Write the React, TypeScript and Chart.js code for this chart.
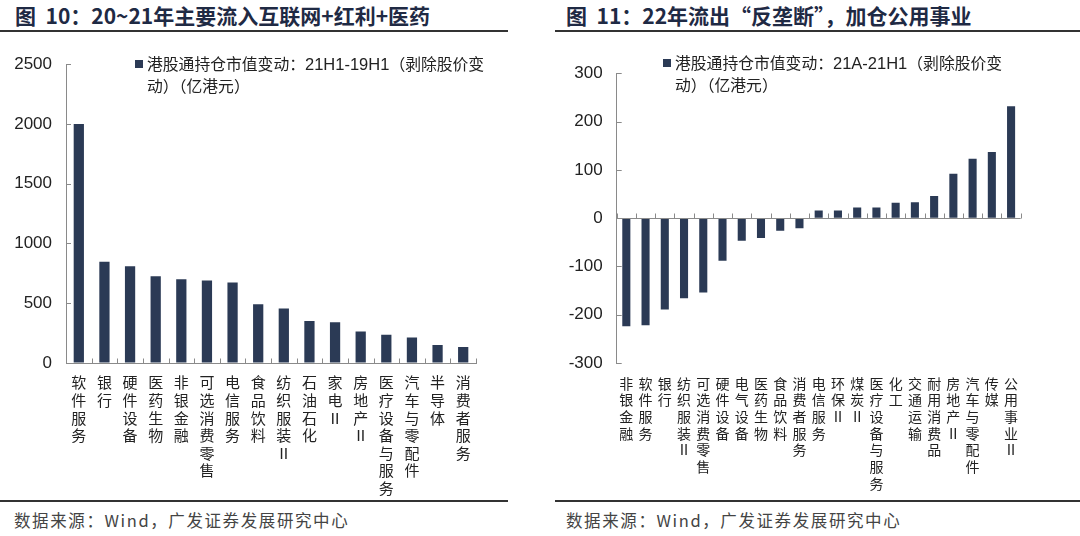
import React, { useEffect, useRef } from "react";
import { Chart, registerables } from "chart.js";

Chart.register(...registerables);

const leftCategories: string[] = [
  "软件服务", "银行", "硬件设备", "医药生物", "非银金融", "可选消费零售", "电信服务", "食品饮料",
  "纺织服装Ⅱ", "石油石化", "家电Ⅱ", "房地产Ⅱ", "医疗设备与服务", "汽车与零配件", "半导体", "消费者服务",
];
const leftValues: number[] = [2000, 848, 809, 726, 701, 690, 673, 491, 457, 352, 341, 263, 236, 213, 150, 133];
const leftTicks = { min: 0, max: 2500, step: 500 };

const rightCategories: string[] = [
  "非银金融", "软件服务", "银行", "纺织服装Ⅱ", "可选消费零售", "硬件设备", "电气设备", "医药生物",
  "食品饮料", "消费者服务", "电信服务", "环保Ⅱ", "煤炭Ⅱ", "医疗设备与服务", "化工", "交通运输",
  "耐用消费品", "房地产Ⅱ", "汽车与零配件", "传媒", "公用事业Ⅱ",
];
const rightValues: number[] = [-224, -222, -189, -166, -154, -88, -47, -41, -26, -21, 16, 16, 22, 22, 32, 33, 46, 92, 123, 137, 232];
const rightTicks = { min: -300, max: 300, step: 100 };

const BAR = "#2b3a55";
const AXIS = "#8a8a8a";
const CJK = "'Noto Sans CJK SC', 'Liberation Sans', sans-serif";
const NUM = "'Liberation Sans', Arial, sans-serif";

const innerTicks = {
  id: "innerTicks",
  afterDatasetsDraw(chart: any, _args: any, opts: any) {
    const { ctx, chartArea } = chart;
    const x = chart.scales.x;
    const y = chart.scales.y;
    ctx.save();
    ctx.strokeStyle = AXIS;
    ctx.lineWidth = 1;
    y.ticks.forEach((_t: any, i: number) => {
      const py = Math.round(y.getPixelForTick(i)) + 0.5;
      ctx.beginPath();
      ctx.moveTo(chartArea.left, py);
      ctx.lineTo(chartArea.left + 5, py);
      ctx.stroke();
    });
    const by = Math.round(opts.zeroLine ? y.getPixelForValue(0) : chartArea.bottom) + 0.5;
    if (opts.zeroLine) {
      ctx.beginPath();
      ctx.moveTo(chartArea.left, by);
      ctx.lineTo(chartArea.right, by);
      ctx.stroke();
    }
    const n = x.ticks.length;
    for (let i = 0; i <= n; i++) {
      const px = Math.round(x.left + (i * x.width) / n) + 0.5;
      ctx.beginPath();
      ctx.moveTo(px, by);
      ctx.lineTo(px, by - 5);
      ctx.stroke();
    }
    ctx.restore();
  },
};

function vertical(label: string): string[] {
  return Array.from(label);
}

function useBarChart(
  ref: React.RefObject<HTMLCanvasElement>,
  cats: string[],
  vals: number[],
  ticks: { min: number; max: number; step: number },
  layout: { top: number; right: number; yWidth: number; xHeight: number; bar: number; labelSize: number; lineH: number; zeroLine: boolean; xPad: number }
) {
  useEffect(() => {
    if (!ref.current) return;
    const chart = new Chart(ref.current, {
      type: "bar",
      data: {
        labels: cats.map(vertical),
        datasets: [
          {
            label: "data",
            data: vals,
            backgroundColor: BAR,
            borderWidth: 0,
            barPercentage: layout.bar,
            categoryPercentage: 1,
          },
        ],
      },
      options: {
        animation: false,
        responsive: false,
        maintainAspectRatio: false,
        layout: { padding: { top: layout.top, right: layout.right, left: 0, bottom: 0 } },
        plugins: {
          legend: { display: false },
          tooltip: { enabled: false },
          innerTicks: { zeroLine: layout.zeroLine },
        } as any,
        scales: {
          x: {
            grid: { display: true, drawOnChartArea: false, drawTicks: false },
            border: { display: !layout.zeroLine, color: AXIS, width: 1 },
            ticks: {
              autoSkip: false,
              maxRotation: 0,
              minRotation: 0,
              padding: layout.xPad,
              color: "#222",
              font: { family: CJK, size: layout.labelSize, lineHeight: layout.lineH },
            },
            afterFit: (s: any) => {
              s.height = layout.xHeight;
            },
          },
          y: {
            min: ticks.min,
            max: ticks.max,
            grid: { display: true, drawOnChartArea: false, drawTicks: false },
            border: { display: true, color: AXIS, width: 1 },
            ticks: {
              stepSize: ticks.step,
              padding: 14,
              color: "#222",
              font: { family: NUM, size: 17 },
              callback: (v: any) => String(v),
            },
            afterFit: (s: any) => {
              s.width = layout.yWidth;
            },
          },
        },
      },
      plugins: [innerTicks as any],
    });
    return () => chart.destroy();
  }, []);
}

const titleStyle: React.CSSProperties = {
  position: "absolute",
  top: 2,
  fontFamily: CJK,
  fontWeight: 700,
  fontSize: 21,
  color: "#1f2a44",
  whiteSpace: "pre",
  lineHeight: "26px",
};
const srcStyle: React.CSSProperties = {
  position: "absolute",
  top: 508,
  fontFamily: CJK,
  fontSize: 16.5,
  color: "#444",
  whiteSpace: "nowrap",
  letterSpacing: 1.6,
  lineHeight: "24px",
};
const legendText: React.CSSProperties = {
  position: "absolute",
  fontFamily: CJK,
  fontSize: 15.8,
  color: "#222",
  whiteSpace: "nowrap",
  lineHeight: "21px",
};

function Rule({ left, width, top }: { left: number; width: number; top: number }) {
  return <div style={{ position: "absolute", left, top, width, height: 1.5, background: "#333" }} />;
}

export default function App() {
  const leftRef = useRef<HTMLCanvasElement>(null);
  const rightRef = useRef<HTMLCanvasElement>(null);

  useEffect(() => {
    document.body.style.margin = "0";
  }, []);

  useBarChart(leftRef, leftCategories, leftValues, leftTicks, {
    top: 22.7, right: 64, yWidth: 66, xHeight: 137, bar: 0.4, labelSize: 15, lineH: 1.17, zeroLine: false, xPad: 11,
  });
  useBarChart(rightRef, rightCategories, rightValues, rightTicks, {
    top: 33.3, right: 59.3, yWidth: 76.7, xHeight: 137, bar: 0.42, labelSize: 14, lineH: 1.19, zeroLine: true, xPad: 12,
  });

  return (
    <div style={{ position: "fixed", left: 0, top: 0, width: 1080, height: 536, background: "#fff", overflow: "hidden" }}>
      <div style={{ ...titleStyle, left: 15 }}>{"图  10：20~21年主要流入互联网+红利+医药"}</div>
      <div style={{ ...titleStyle, left: 566 }}>{"图  11：22年流出“反垄断”，加仓公用事业"}</div>
      <Rule left={0} width={508} top={30} />
      <Rule left={555} width={525} top={30} />

      <canvas ref={leftRef} width={540} height={460} style={{ position: "absolute", left: 0, top: 40, width: 540, height: 460 }} />
      <canvas ref={rightRef} width={540} height={460} style={{ position: "absolute", left: 540, top: 40, width: 540, height: 460 }} />

      <div style={{ position: "absolute", left: 135, top: 60, width: 8, height: 8, background: BAR }} />
      <div style={{ ...legendText, left: 147, top: 53 }}>
        港股通持仓市值变动：<span style={{ fontFamily: NUM, fontSize: 16.5 }}>21H1-19H1</span>（剥除股价变
        <br />
        动）（亿港元）
      </div>

      <div style={{ position: "absolute", left: 663, top: 59, width: 8, height: 8, background: BAR }} />
      <div style={{ ...legendText, left: 675, top: 52 }}>
        港股通持仓市值变动：<span style={{ fontFamily: NUM, fontSize: 16.5 }}>21A-21H1</span>（剥除股价变
        <br />
        动）（亿港元）
      </div>

      <Rule left={0} width={508} top={500} />
      <Rule left={555} width={525} top={500} />
      <div style={{ ...srcStyle, left: 14 }}>数据来源：Wind，广发证券发展研究中心</div>
      <div style={{ ...srcStyle, left: 566 }}>数据来源：Wind，广发证券发展研究中心</div>
    </div>
  );
}
